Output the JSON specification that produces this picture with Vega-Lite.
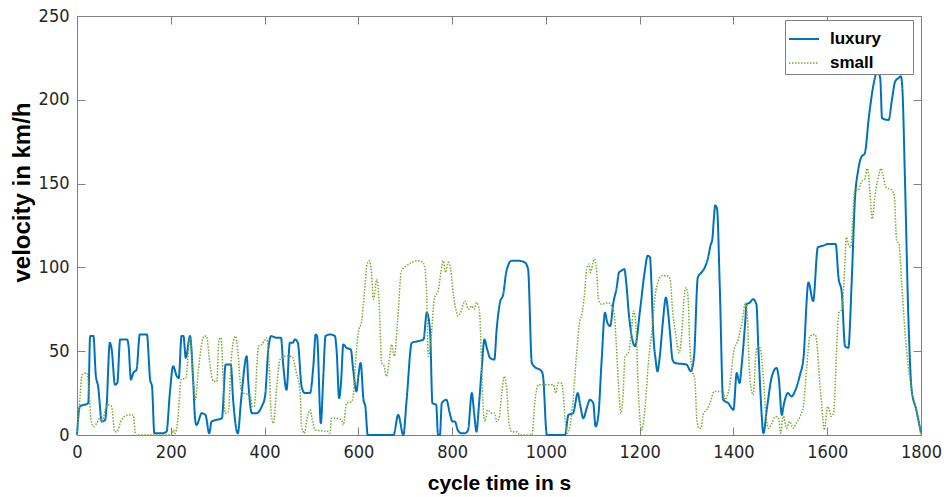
{
  "$schema": "https://vega.github.io/schema/vega-lite/v6.json",
  "width": 844,
  "height": 419,
  "autosize": {"type": "none"},
  "padding": {"left": 77, "top": 16, "right": 23, "bottom": 62},
  "background": "white",
  "config": {
    "view": {"stroke": "#808080", "strokeWidth": 1},
    "axis": {
      "grid": false,
      "domainColor": "#808080",
      "tickColor": "#808080",
      "tickSize": -8,
      "labelFlush": false,
      "labelColor": "#262626",
      "labelFont": "DejaVu Sans Condensed, Liberation Sans",
      "labelFontSize": 18,
      "titleColor": "#000000",
      "titleFontWeight": "bold"
    }
  },
  "datasets": {
    "cyc": [
      {"t":0,"v":0,"car":"luxury"},{"t":6,"v":17,"car":"luxury"},{"t":24,"v":19,"car":"luxury"},{"t":28,"v":59,"car":"luxury"},{"t":35,"v":59,"car":"luxury"},{"t":40,"v":36,"car":"luxury"},{"t":45,"v":29,"car":"luxury"},{"t":53,"v":8,"car":"luxury"},{"t":60,"v":9,"car":"luxury"},{"t":63,"v":17,"car":"luxury"},{"t":70,"v":55,"car":"luxury"},{"t":74,"v":51,"car":"luxury"},{"t":81,"v":30,"car":"luxury"},{"t":86,"v":31,"car":"luxury"},{"t":92,"v":57,"car":"luxury"},{"t":99,"v":57,"car":"luxury"},{"t":107,"v":57,"car":"luxury"},{"t":110,"v":53,"car":"luxury"},{"t":115,"v":33,"car":"luxury"},{"t":120,"v":37,"car":"luxury"},{"t":127,"v":39,"car":"luxury"},{"t":134,"v":60,"car":"luxury"},{"t":149,"v":60,"car":"luxury"},{"t":156,"v":33,"car":"luxury"},{"t":160,"v":29,"car":"luxury"},{"t":165,"v":1,"car":"luxury"},{"t":181,"v":1,"car":"luxury"},{"t":191,"v":2,"car":"luxury"},{"t":198,"v":25,"car":"luxury"},{"t":205,"v":41,"car":"luxury"},{"t":213,"v":35,"car":"luxury"},{"t":217,"v":34,"car":"luxury"},{"t":223,"v":59,"car":"luxury"},{"t":227,"v":59,"car":"luxury"},{"t":232,"v":46,"car":"luxury"},{"t":241,"v":59,"car":"luxury"},{"t":248,"v":31,"car":"luxury"},{"t":252,"v":9,"car":"luxury"},{"t":255,"v":6,"car":"luxury"},{"t":266,"v":13,"car":"luxury"},{"t":274,"v":12,"car":"luxury"},{"t":282,"v":1,"car":"luxury"},{"t":287,"v":8,"car":"luxury"},{"t":297,"v":9,"car":"luxury"},{"t":309,"v":10,"car":"luxury"},{"t":317,"v":42,"car":"luxury"},{"t":328,"v":42,"car":"luxury"},{"t":333,"v":21,"car":"luxury"},{"t":343,"v":1,"car":"luxury"},{"t":350,"v":21,"car":"luxury"},{"t":362,"v":47,"car":"luxury"},{"t":365,"v":33,"car":"luxury"},{"t":373,"v":13,"car":"luxury"},{"t":383,"v":13,"car":"luxury"},{"t":394,"v":17,"car":"luxury"},{"t":401,"v":23,"car":"luxury"},{"t":408,"v":51,"car":"luxury"},{"t":414,"v":59,"car":"luxury"},{"t":426,"v":58,"car":"luxury"},{"t":435,"v":58,"car":"luxury"},{"t":440,"v":41,"car":"luxury"},{"t":447,"v":27,"car":"luxury"},{"t":454,"v":55,"car":"luxury"},{"t":460,"v":55,"car":"luxury"},{"t":465,"v":57,"car":"luxury"},{"t":471,"v":55,"car":"luxury"},{"t":479,"v":29,"car":"luxury"},{"t":486,"v":25,"car":"luxury"},{"t":497,"v":25,"car":"luxury"},{"t":504,"v":41,"car":"luxury"},{"t":509,"v":60,"car":"luxury"},{"t":512,"v":59,"car":"luxury"},{"t":520,"v":7,"car":"luxury"},{"t":525,"v":33,"car":"luxury"},{"t":530,"v":59,"car":"luxury"},{"t":540,"v":60,"car":"luxury"},{"t":550,"v":59,"car":"luxury"},{"t":554,"v":49,"car":"luxury"},{"t":559,"v":22,"car":"luxury"},{"t":563,"v":31,"car":"luxury"},{"t":568,"v":54,"car":"luxury"},{"t":575,"v":52,"car":"luxury"},{"t":584,"v":51,"car":"luxury"},{"t":589,"v":39,"car":"luxury"},{"t":596,"v":26,"car":"luxury"},{"t":600,"v":35,"car":"luxury"},{"t":605,"v":43,"car":"luxury"},{"t":611,"v":21,"car":"luxury"},{"t":615,"v":17,"car":"luxury"},{"t":620,"v":0,"car":"luxury"},{"t":675,"v":0,"car":"luxury"},{"t":685,"v":12,"car":"luxury"},{"t":696,"v":0,"car":"luxury"},{"t":703,"v":21,"car":"luxury"},{"t":714,"v":55,"car":"luxury"},{"t":728,"v":56,"car":"luxury"},{"t":739,"v":57,"car":"luxury"},{"t":746,"v":73,"car":"luxury"},{"t":753,"v":62,"car":"luxury"},{"t":758,"v":19,"car":"luxury"},{"t":766,"v":18,"car":"luxury"},{"t":770,"v":0,"car":"luxury"},{"t":774,"v":0,"car":"luxury"},{"t":778,"v":19,"car":"luxury"},{"t":788,"v":21,"car":"luxury"},{"t":795,"v":13,"car":"luxury"},{"t":801,"v":8,"car":"luxury"},{"t":806,"v":8,"car":"luxury"},{"t":812,"v":3,"car":"luxury"},{"t":820,"v":1,"car":"luxury"},{"t":827,"v":1,"car":"luxury"},{"t":834,"v":3,"car":"luxury"},{"t":842,"v":25,"car":"luxury"},{"t":847,"v":13,"car":"luxury"},{"t":852,"v":2,"car":"luxury"},{"t":857,"v":17,"car":"luxury"},{"t":863,"v":39,"car":"luxury"},{"t":869,"v":57,"car":"luxury"},{"t":874,"v":52,"car":"luxury"},{"t":881,"v":46,"car":"luxury"},{"t":890,"v":45,"car":"luxury"},{"t":895,"v":63,"car":"luxury"},{"t":902,"v":79,"car":"luxury"},{"t":909,"v":84,"car":"luxury"},{"t":916,"v":98,"car":"luxury"},{"t":927,"v":104,"car":"luxury"},{"t":941,"v":104,"car":"luxury"},{"t":955,"v":103,"car":"luxury"},{"t":962,"v":99,"car":"luxury"},{"t":970,"v":43,"car":"luxury"},{"t":975,"v":41,"car":"luxury"},{"t":991,"v":38,"car":"luxury"},{"t":994,"v":35,"car":"luxury"},{"t":1002,"v":0,"car":"luxury"},{"t":1041,"v":0,"car":"luxury"},{"t":1048,"v":12,"car":"luxury"},{"t":1058,"v":13,"car":"luxury"},{"t":1068,"v":25,"car":"luxury"},{"t":1073,"v":18,"car":"luxury"},{"t":1080,"v":10,"car":"luxury"},{"t":1087,"v":16,"car":"luxury"},{"t":1094,"v":21,"car":"luxury"},{"t":1101,"v":19,"car":"luxury"},{"t":1106,"v":5,"car":"luxury"},{"t":1112,"v":12,"car":"luxury"},{"t":1119,"v":45,"car":"luxury"},{"t":1126,"v":73,"car":"luxury"},{"t":1131,"v":67,"car":"luxury"},{"t":1137,"v":65,"car":"luxury"},{"t":1144,"v":79,"car":"luxury"},{"t":1151,"v":88,"car":"luxury"},{"t":1156,"v":97,"car":"luxury"},{"t":1161,"v":98,"car":"luxury"},{"t":1167,"v":99,"car":"luxury"},{"t":1172,"v":89,"car":"luxury"},{"t":1176,"v":75,"car":"luxury"},{"t":1183,"v":59,"car":"luxury"},{"t":1190,"v":53,"car":"luxury"},{"t":1201,"v":75,"car":"luxury"},{"t":1211,"v":98,"car":"luxury"},{"t":1217,"v":107,"car":"luxury"},{"t":1222,"v":106,"car":"luxury"},{"t":1225,"v":91,"car":"luxury"},{"t":1229,"v":61,"car":"luxury"},{"t":1234,"v":45,"car":"luxury"},{"t":1238,"v":38,"car":"luxury"},{"t":1243,"v":47,"car":"luxury"},{"t":1249,"v":66,"car":"luxury"},{"t":1256,"v":82,"car":"luxury"},{"t":1260,"v":75,"car":"luxury"},{"t":1265,"v":60,"car":"luxury"},{"t":1270,"v":45,"car":"luxury"},{"t":1275,"v":43,"car":"luxury"},{"t":1300,"v":42,"car":"luxury"},{"t":1309,"v":38,"car":"luxury"},{"t":1316,"v":47,"car":"luxury"},{"t":1324,"v":94,"car":"luxury"},{"t":1332,"v":97,"car":"luxury"},{"t":1339,"v":100,"car":"luxury"},{"t":1346,"v":106,"car":"luxury"},{"t":1351,"v":113,"car":"luxury"},{"t":1355,"v":117,"car":"luxury"},{"t":1358,"v":128,"car":"luxury"},{"t":1361,"v":137,"car":"luxury"},{"t":1365,"v":135,"car":"luxury"},{"t":1371,"v":87,"car":"luxury"},{"t":1378,"v":21,"car":"luxury"},{"t":1389,"v":19,"car":"luxury"},{"t":1400,"v":15,"car":"luxury"},{"t":1407,"v":37,"car":"luxury"},{"t":1413,"v":31,"car":"luxury"},{"t":1418,"v":43,"car":"luxury"},{"t":1425,"v":67,"car":"luxury"},{"t":1428,"v":78,"car":"luxury"},{"t":1435,"v":79,"car":"luxury"},{"t":1442,"v":81,"car":"luxury"},{"t":1449,"v":78,"car":"luxury"},{"t":1453,"v":53,"car":"luxury"},{"t":1458,"v":23,"car":"luxury"},{"t":1464,"v":1,"car":"luxury"},{"t":1471,"v":15,"car":"luxury"},{"t":1482,"v":35,"car":"luxury"},{"t":1492,"v":40,"car":"luxury"},{"t":1497,"v":33,"car":"luxury"},{"t":1503,"v":12,"car":"luxury"},{"t":1508,"v":19,"car":"luxury"},{"t":1516,"v":25,"car":"luxury"},{"t":1524,"v":23,"car":"luxury"},{"t":1531,"v":26,"car":"luxury"},{"t":1542,"v":36,"car":"luxury"},{"t":1549,"v":45,"car":"luxury"},{"t":1560,"v":91,"car":"luxury"},{"t":1570,"v":80,"car":"luxury"},{"t":1580,"v":112,"car":"luxury"},{"t":1592,"v":113,"car":"luxury"},{"t":1602,"v":114,"car":"luxury"},{"t":1618,"v":114,"car":"luxury"},{"t":1624,"v":94,"car":"luxury"},{"t":1631,"v":85,"car":"luxury"},{"t":1638,"v":53,"car":"luxury"},{"t":1645,"v":52,"car":"luxury"},{"t":1652,"v":90,"car":"luxury"},{"t":1659,"v":140,"car":"luxury"},{"t":1666,"v":158,"car":"luxury"},{"t":1673,"v":166,"car":"luxury"},{"t":1680,"v":168,"car":"luxury"},{"t":1689,"v":190,"car":"luxury"},{"t":1698,"v":208,"car":"luxury"},{"t":1707,"v":217,"car":"luxury"},{"t":1713,"v":213,"car":"luxury"},{"t":1717,"v":189,"car":"luxury"},{"t":1731,"v":188,"car":"luxury"},{"t":1738,"v":200,"car":"luxury"},{"t":1745,"v":211,"car":"luxury"},{"t":1752,"v":213,"car":"luxury"},{"t":1757,"v":214,"car":"luxury"},{"t":1760,"v":208,"car":"luxury"},{"t":1766,"v":150,"car":"luxury"},{"t":1773,"v":71,"car":"luxury"},{"t":1780,"v":27,"car":"luxury"},{"t":1790,"v":15,"car":"luxury"},{"t":1800,"v":1,"car":"luxury"},
      {"t":0,"v":0,"car":"small"},{"t":6,"v":21,"car":"small"},{"t":11,"v":36,"car":"small"},{"t":21,"v":37,"car":"small"},{"t":26,"v":25,"car":"small"},{"t":30,"v":9,"car":"small"},{"t":35,"v":5,"car":"small"},{"t":42,"v":7,"car":"small"},{"t":49,"v":10,"car":"small"},{"t":54,"v":8,"car":"small"},{"t":60,"v":15,"car":"small"},{"t":67,"v":18,"car":"small"},{"t":74,"v":17,"car":"small"},{"t":80,"v":2,"car":"small"},{"t":85,"v":2,"car":"small"},{"t":95,"v":9,"car":"small"},{"t":109,"v":12,"car":"small"},{"t":120,"v":12,"car":"small"},{"t":125,"v":0,"car":"small"},{"t":202,"v":0,"car":"small"},{"t":206,"v":3,"car":"small"},{"t":209,"v":1,"car":"small"},{"t":215,"v":9,"car":"small"},{"t":222,"v":33,"car":"small"},{"t":232,"v":34,"car":"small"},{"t":241,"v":58,"car":"small"},{"t":248,"v":33,"car":"small"},{"t":252,"v":21,"car":"small"},{"t":259,"v":39,"car":"small"},{"t":264,"v":51,"car":"small"},{"t":271,"v":59,"car":"small"},{"t":276,"v":59,"car":"small"},{"t":284,"v":41,"car":"small"},{"t":291,"v":32,"car":"small"},{"t":298,"v":32,"car":"small"},{"t":303,"v":57,"car":"small"},{"t":307,"v":58,"car":"small"},{"t":312,"v":33,"car":"small"},{"t":316,"v":13,"car":"small"},{"t":323,"v":14,"car":"small"},{"t":328,"v":41,"car":"small"},{"t":333,"v":55,"car":"small"},{"t":338,"v":59,"car":"small"},{"t":343,"v":50,"car":"small"},{"t":350,"v":27,"car":"small"},{"t":355,"v":25,"car":"small"},{"t":369,"v":24,"car":"small"},{"t":374,"v":17,"car":"small"},{"t":378,"v":17,"car":"small"},{"t":387,"v":53,"car":"small"},{"t":394,"v":54,"car":"small"},{"t":401,"v":57,"car":"small"},{"t":404,"v":58,"car":"small"},{"t":410,"v":41,"car":"small"},{"t":414,"v":13,"car":"small"},{"t":419,"v":7,"car":"small"},{"t":426,"v":29,"car":"small"},{"t":433,"v":45,"car":"small"},{"t":442,"v":47,"car":"small"},{"t":458,"v":47,"car":"small"},{"t":468,"v":37,"car":"small"},{"t":476,"v":25,"car":"small"},{"t":479,"v":5,"car":"small"},{"t":485,"v":1,"car":"small"},{"t":490,"v":9,"car":"small"},{"t":497,"v":15,"car":"small"},{"t":502,"v":9,"car":"small"},{"t":508,"v":3,"car":"small"},{"t":536,"v":2,"car":"small"},{"t":539,"v":1,"car":"small"},{"t":543,"v":10,"car":"small"},{"t":554,"v":10,"car":"small"},{"t":564,"v":9,"car":"small"},{"t":568,"v":6,"car":"small"},{"t":575,"v":19,"car":"small"},{"t":586,"v":20,"car":"small"},{"t":591,"v":29,"car":"small"},{"t":594,"v":43,"car":"small"},{"t":600,"v":61,"car":"small"},{"t":607,"v":68,"car":"small"},{"t":613,"v":85,"car":"small"},{"t":618,"v":101,"car":"small"},{"t":623,"v":104,"car":"small"},{"t":628,"v":97,"car":"small"},{"t":632,"v":81,"car":"small"},{"t":636,"v":87,"car":"small"},{"t":639,"v":93,"car":"small"},{"t":644,"v":81,"car":"small"},{"t":650,"v":43,"car":"small"},{"t":655,"v":41,"car":"small"},{"t":660,"v":35,"car":"small"},{"t":668,"v":49,"car":"small"},{"t":671,"v":54,"car":"small"},{"t":677,"v":47,"car":"small"},{"t":684,"v":69,"car":"small"},{"t":692,"v":98,"car":"small"},{"t":703,"v":101,"car":"small"},{"t":714,"v":103,"car":"small"},{"t":725,"v":104,"car":"small"},{"t":737,"v":103,"car":"small"},{"t":741,"v":101,"car":"small"},{"t":746,"v":81,"car":"small"},{"t":749,"v":47,"car":"small"},{"t":755,"v":57,"car":"small"},{"t":762,"v":81,"car":"small"},{"t":771,"v":87,"car":"small"},{"t":776,"v":97,"car":"small"},{"t":781,"v":104,"car":"small"},{"t":786,"v":97,"car":"small"},{"t":792,"v":103,"car":"small"},{"t":797,"v":99,"car":"small"},{"t":803,"v":83,"car":"small"},{"t":808,"v":75,"car":"small"},{"t":813,"v":71,"car":"small"},{"t":818,"v":73,"car":"small"},{"t":827,"v":80,"car":"small"},{"t":835,"v":75,"car":"small"},{"t":842,"v":77,"car":"small"},{"t":847,"v":75,"car":"small"},{"t":852,"v":79,"car":"small"},{"t":858,"v":75,"car":"small"},{"t":863,"v":41,"car":"small"},{"t":866,"v":17,"car":"small"},{"t":870,"v":8,"car":"small"},{"t":876,"v":15,"car":"small"},{"t":883,"v":13,"car":"small"},{"t":891,"v":13,"car":"small"},{"t":895,"v":8,"car":"small"},{"t":900,"v":10,"car":"small"},{"t":906,"v":25,"car":"small"},{"t":911,"v":35,"car":"small"},{"t":916,"v":29,"car":"small"},{"t":921,"v":8,"car":"small"},{"t":927,"v":2,"car":"small"},{"t":937,"v":2,"car":"small"},{"t":945,"v":0,"car":"small"},{"t":970,"v":0,"car":"small"},{"t":977,"v":21,"car":"small"},{"t":984,"v":30,"car":"small"},{"t":1005,"v":30,"car":"small"},{"t":1016,"v":30,"car":"small"},{"t":1021,"v":25,"car":"small"},{"t":1026,"v":31,"car":"small"},{"t":1033,"v":31,"car":"small"},{"t":1037,"v":25,"car":"small"},{"t":1041,"v":9,"car":"small"},{"t":1046,"v":1,"car":"small"},{"t":1051,"v":5,"car":"small"},{"t":1058,"v":21,"car":"small"},{"t":1065,"v":47,"car":"small"},{"t":1073,"v":69,"car":"small"},{"t":1076,"v":71,"car":"small"},{"t":1082,"v":83,"car":"small"},{"t":1087,"v":99,"car":"small"},{"t":1092,"v":102,"car":"small"},{"t":1095,"v":97,"car":"small"},{"t":1103,"v":105,"car":"small"},{"t":1108,"v":99,"car":"small"},{"t":1112,"v":81,"car":"small"},{"t":1119,"v":78,"car":"small"},{"t":1133,"v":79,"car":"small"},{"t":1140,"v":77,"car":"small"},{"t":1146,"v":72,"car":"small"},{"t":1150,"v":55,"car":"small"},{"t":1155,"v":29,"car":"small"},{"t":1160,"v":13,"car":"small"},{"t":1164,"v":21,"car":"small"},{"t":1169,"v":47,"car":"small"},{"t":1176,"v":49,"car":"small"},{"t":1182,"v":61,"car":"small"},{"t":1187,"v":74,"car":"small"},{"t":1192,"v":65,"car":"small"},{"t":1197,"v":27,"car":"small"},{"t":1204,"v":3,"car":"small"},{"t":1210,"v":12,"car":"small"},{"t":1218,"v":41,"car":"small"},{"t":1227,"v":65,"car":"small"},{"t":1233,"v":83,"car":"small"},{"t":1240,"v":92,"car":"small"},{"t":1247,"v":95,"car":"small"},{"t":1258,"v":95,"car":"small"},{"t":1265,"v":93,"car":"small"},{"t":1270,"v":75,"car":"small"},{"t":1277,"v":60,"car":"small"},{"t":1284,"v":49,"car":"small"},{"t":1290,"v":61,"car":"small"},{"t":1295,"v":83,"car":"small"},{"t":1299,"v":88,"car":"small"},{"t":1303,"v":83,"car":"small"},{"t":1307,"v":53,"car":"small"},{"t":1312,"v":39,"car":"small"},{"t":1318,"v":32,"car":"small"},{"t":1322,"v":9,"car":"small"},{"t":1327,"v":4,"car":"small"},{"t":1331,"v":4,"car":"small"},{"t":1336,"v":13,"car":"small"},{"t":1343,"v":15,"car":"small"},{"t":1350,"v":19,"car":"small"},{"t":1359,"v":26,"car":"small"},{"t":1371,"v":26,"car":"small"},{"t":1378,"v":26,"car":"small"},{"t":1382,"v":21,"car":"small"},{"t":1386,"v":23,"car":"small"},{"t":1393,"v":31,"car":"small"},{"t":1400,"v":49,"car":"small"},{"t":1410,"v":57,"car":"small"},{"t":1418,"v":67,"car":"small"},{"t":1426,"v":79,"car":"small"},{"t":1430,"v":69,"car":"small"},{"t":1433,"v":45,"car":"small"},{"t":1437,"v":29,"car":"small"},{"t":1442,"v":24,"car":"small"},{"t":1449,"v":51,"car":"small"},{"t":1454,"v":53,"car":"small"},{"t":1458,"v":51,"car":"small"},{"t":1464,"v":33,"car":"small"},{"t":1469,"v":13,"car":"small"},{"t":1475,"v":4,"car":"small"},{"t":1482,"v":7,"car":"small"},{"t":1489,"v":11,"car":"small"},{"t":1496,"v":10,"car":"small"},{"t":1501,"v":1,"car":"small"},{"t":1506,"v":12,"car":"small"},{"t":1513,"v":4,"car":"small"},{"t":1520,"v":8,"car":"small"},{"t":1527,"v":4,"car":"small"},{"t":1534,"v":7,"car":"small"},{"t":1542,"v":11,"car":"small"},{"t":1549,"v":17,"car":"small"},{"t":1556,"v":39,"car":"small"},{"t":1563,"v":59,"car":"small"},{"t":1574,"v":60,"car":"small"},{"t":1578,"v":55,"car":"small"},{"t":1582,"v":39,"car":"small"},{"t":1588,"v":19,"car":"small"},{"t":1594,"v":3,"car":"small"},{"t":1601,"v":17,"car":"small"},{"t":1609,"v":11,"car":"small"},{"t":1614,"v":14,"car":"small"},{"t":1620,"v":51,"car":"small"},{"t":1625,"v":73,"car":"small"},{"t":1631,"v":75,"car":"small"},{"t":1636,"v":92,"car":"small"},{"t":1641,"v":118,"car":"small"},{"t":1646,"v":113,"car":"small"},{"t":1650,"v":112,"car":"small"},{"t":1659,"v":146,"car":"small"},{"t":1666,"v":146,"car":"small"},{"t":1673,"v":151,"car":"small"},{"t":1680,"v":153,"car":"small"},{"t":1686,"v":159,"car":"small"},{"t":1691,"v":145,"car":"small"},{"t":1696,"v":129,"car":"small"},{"t":1702,"v":143,"car":"small"},{"t":1707,"v":151,"car":"small"},{"t":1715,"v":159,"car":"small"},{"t":1719,"v":155,"car":"small"},{"t":1725,"v":148,"car":"small"},{"t":1738,"v":146,"car":"small"},{"t":1743,"v":143,"car":"small"},{"t":1748,"v":116,"car":"small"},{"t":1753,"v":114,"car":"small"},{"t":1759,"v":90,"car":"small"},{"t":1766,"v":61,"car":"small"},{"t":1773,"v":41,"car":"small"},{"t":1780,"v":27,"car":"small"},{"t":1790,"v":15,"car":"small"},{"t":1800,"v":0,"car":"small"}
    ]
  },
  "data": {"name": "cyc"},
  "layer": [
    {
      "mark": {"type": "line", "opacity": 0},
      "encoding": {
        "x": {"field": "t", "type": "quantitative", "scale": {"domain": [0, 1800], "nice": false},
          "axis": {"orient": "top", "labels": false, "title": null, "domain": false, "values": [0,200,400,600,800,1000,1200,1400,1600,1800]}},
        "y": {"field": "v", "type": "quantitative", "scale": {"domain": [0, 250], "nice": false},
          "axis": {"orient": "right", "labels": false, "title": null, "domain": false, "values": [0,50,100,150,200,250]}},
        "detail": {"field": "car"}
      }
    },
    {
      "mark": {"type": "line", "interpolate": "monotone"},
      "encoding": {
        "x": {"field": "t", "type": "quantitative", "scale": {"domain": [0, 1800], "nice": false},
          "axis": {"orient": "bottom", "title": "cycle time in s", "titleFont": "Liberation Sans", "titleFontSize": 21, "titlePadding": 11, "labelPadding": 16, "format": "d", "values": [0,200,400,600,800,1000,1200,1400,1600,1800]}},
        "y": {"field": "v", "type": "quantitative", "scale": {"domain": [0, 250], "nice": false},
          "axis": {"orient": "left", "title": "velocity in km/h", "titleFont": "Liberation Sans", "titleFontSize": 24, "titlePadding": 4, "labelPadding": 16, "titleY": 176, "format": "d", "values": [0,50,100,150,200,250]}},
        "color": {"field": "car", "type": "nominal",
          "scale": {"domain": ["luxury", "small"], "range": ["#0072BD", "#77AC30"]},
          "legend": {"orient": "none", "legendX": 708, "legendY": 4, "title": null,
            "fillColor": "white", "strokeColor": "#808080", "padding": 3,
            "labelFont": "Liberation Sans", "labelFontSize": 17, "labelFontWeight": "bold", "labelColor": "#000000",
            "labelExpr": "datum.label + '\u2007\u2007\u2007\u200b'",
            "symbolType": "stroke", "symbolSize": 900, "symbolStrokeWidth": 2, "labelOffset": 10, "rowPadding": -8}},
        "strokeDash": {"field": "car", "type": "nominal",
          "scale": {"domain": ["luxury", "small"], "range": [[1, 0], [1.5, 1.5]]}},
        "strokeWidth": {"field": "car", "type": "nominal",
          "scale": {"domain": ["luxury", "small"], "range": [2, 1.5]}, "legend": null}
      }
    }
  ]
}
